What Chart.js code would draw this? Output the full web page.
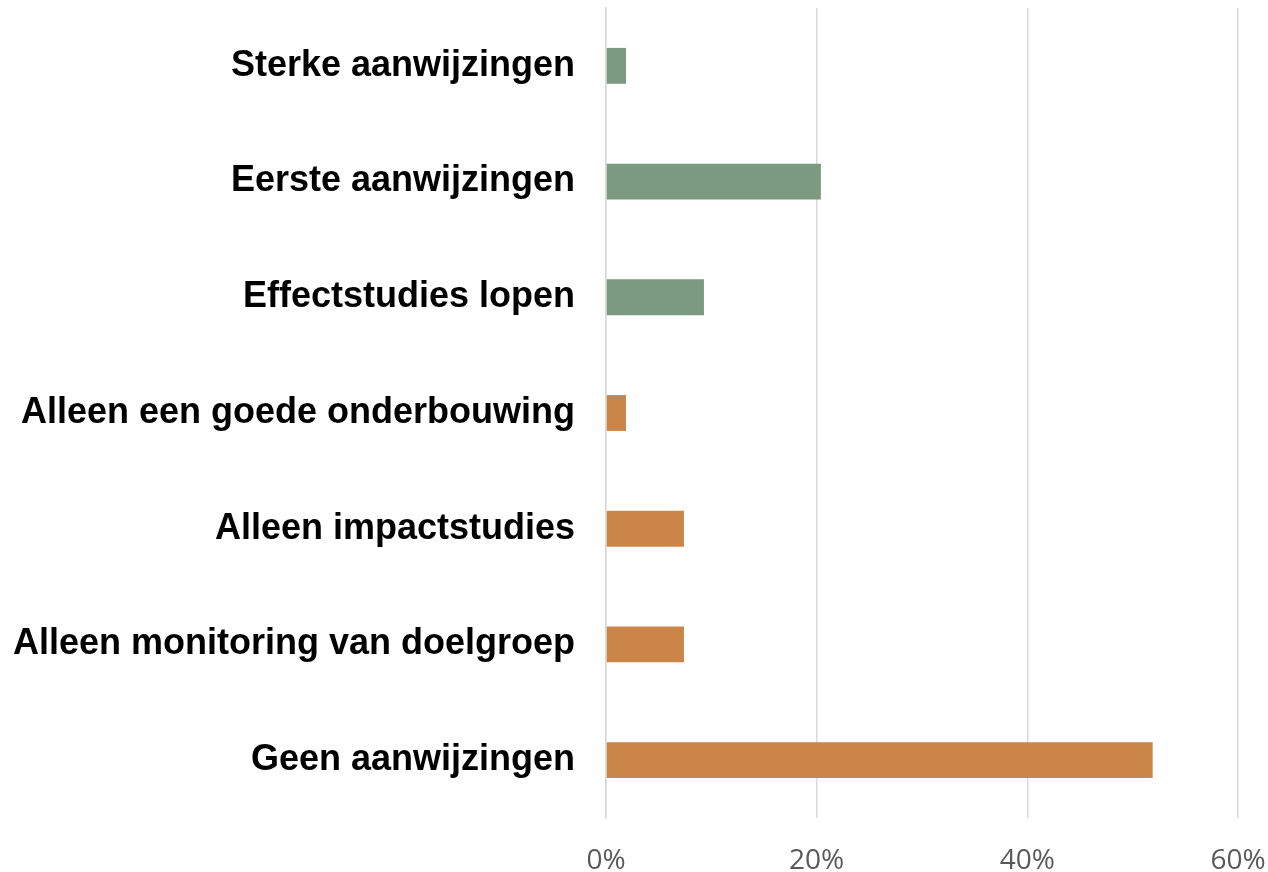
<!DOCTYPE html>
<html>
<head>
<meta charset="utf-8">
<script src="https://cdn.jsdelivr.net/npm/chart.js@4.4.1/dist/chart.umd.min.js"></script>
<style>
  html, body { margin: 0; padding: 0; background: #fff; }
  #wrap { width: 1268px; height: 872px; }
</style>
</head>
<body>
<div id="wrap"><canvas id="chart" width="1268" height="872"></canvas></div>
<script>
// Categories, top to bottom
const categories = [
    'Sterke aanwijzingen',
    'Eerste aanwijzingen',
    'Effectstudies lopen',
    'Alleen een goede onderbouwing',
    'Alleen impactstudies',
    'Alleen monitoring van doelgroep',
    'Geen aanwijzingen'
];
// Share in percent
const shares = [1.9, 20.4, 9.3, 1.9, 7.4, 7.4, 51.9];
const barColors = ['#7b9a80', '#7b9a80', '#7b9a80', '#cb8549', '#cb8549', '#cb8549', '#cb8549'];
const xTicks = [0, 20, 40, 60];

const ctx = document.getElementById('chart').getContext('2d');
const chart = new Chart(ctx, {
    type: 'bar',
    data: {
        labels: categories,
        datasets: [{
            data: shares,
            backgroundColor: barColors,
            barPercentage: 0.31,
            categoryPercentage: 1.0
        }]
    },
    options: {
        indexAxis: 'y',
        responsive: false,
        animation: false,
        layout: { padding: { top: 8, right: 30, left: 0, bottom: 0 } },
        plugins: {
            legend: { display: false },
            tooltip: { enabled: false }
        },
        scales: {
            x: {
                min: 0,
                max: 60,
                afterBuildTicks: function (scale) {
                    scale.ticks = xTicks.map(v => ({ value: v }));
                },
                afterFit: function (scale) {
                    scale.height = 54;
                    scale.paddingLeft = 0;
                    scale.paddingRight = 0;
                },
                grid: { color: '#d9d9d9', lineWidth: 1.5, drawTicks: false },
                border: { display: false },
                ticks: {
                    padding: 26,
                    color: '#595959',
                    font: { family: 'Open Sans', size: 28 },
                    callback: v => v + '%'
                }
            },
            y: {
                afterFit: function (scale) {
                    scale.width = 606;
                    scale.paddingTop = 0;
                    scale.paddingBottom = 0;
                },
                grid: { display: false, drawTicks: false },
                border: { color: '#d9d9d9', width: 1.5 },
                ticks: {
                    padding: 31,
                    color: '#000',
                    font: { family: 'Liberation Sans', size: 36, weight: 'bold' }
                }
            }
        }
    }
});
</script>
</body>
</html>
